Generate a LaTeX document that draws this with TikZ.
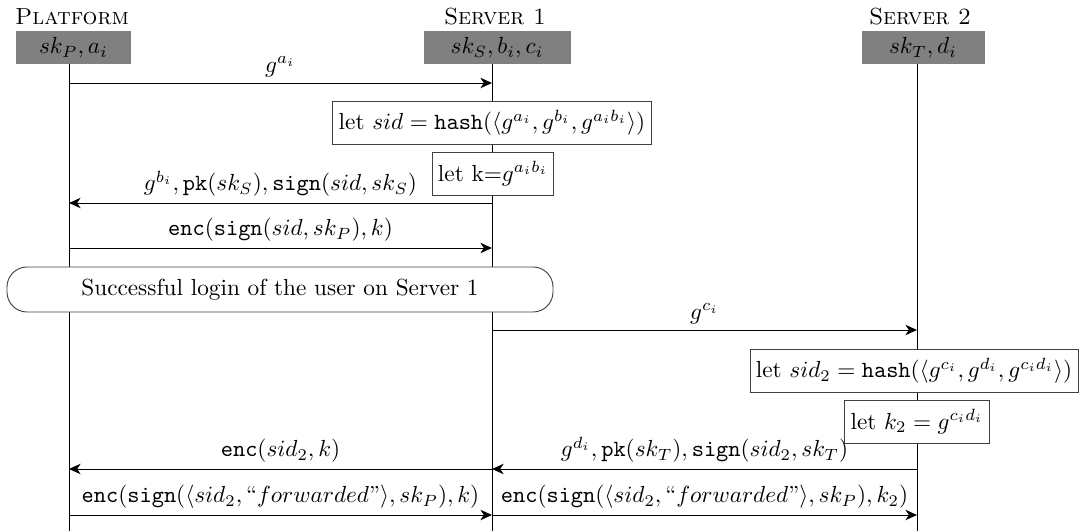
\documentclass[tikz,border=0pt]{standalone}
\usepackage{amsmath}
\usetikzlibrary{arrows.meta}
\newcommand\pxu{0.43pt}
\begin{document}
\begin{tikzpicture}[x=0.43pt,y=-0.43pt,
  title/.style={font=\scshape, inner sep=0pt},
  inst/.style={fill=black!50, minimum height=33*\pxu, inner sep=0pt},
  life/.style={line width=0.4pt},
  msg/.style={-{Stealth[length=5pt,width=4.5pt,inset=1.5pt]}, line width=0.4pt},
  lbl/.style={above, inner sep=2.5pt},
  act/.style={draw=black!75, fill=white, inner xsep=2.5pt, minimum height=43*\pxu},
  note/.style={draw=black!75, fill=white, rounded corners=20*\pxu, minimum width=546*\pxu, minimum height=45*\pxu}]
\useasboundingbox (0,0) rectangle (1083,531);
% titles
\node[title] (tP) at (72,17) {Platform};
\node[title] (tS) at (495,17) {Server 1};
\node[title] (tT) at (920,17) {Server 2};
% instance boxes
\node[inst, minimum width=115*\pxu] (P) at (73.5,48) {$sk_P, a_i$};
\node[inst, minimum width=147*\pxu] (S) at (497,48) {$sk_S, b_i, c_i$};
\node[inst, minimum width=123*\pxu] (T) at (923,48) {$sk_T, d_i$};
% lifelines
\coordinate (Ps) at (69,64);
\coordinate (Ss) at (492,64);
\coordinate (Ts) at (917,64);
\coordinate (Pe) at (69,531);
\coordinate (Se) at (492,531);
\coordinate (Te) at (917,531);
\draw[life] (Ps) -- (Pe);
\draw[life] (Ss) -- (Se);
\draw[life] (Ts) -- (Te);
% message points
\foreach \n/\y in {1/83,2/203,3/248,4/330,5/469,6/515}{
  \coordinate (p\n) at (69,\y);
  \coordinate (s\n) at (492,\y);
  \coordinate (t\n) at (917,\y);
}
\draw[msg] (p1) -- node[lbl] {$g^{a_i}$} (s1);
\node[act] (sid) at (492,122.5) {let $sid = \mathtt{hash}(\langle g^{a_i}, g^{b_i}, g^{a_ib_i}\rangle)$};
\node[act] (k) at (493,173.5) {let k=$g^{a_ib_i}$};
\draw[msg] (s2) -- node[lbl] {$g^{b_i}, \mathtt{pk}(sk_S), \mathtt{sign}(sid, sk_S)$} (p2);
\draw[msg] (p3) -- node[lbl] {$\mathtt{enc}(\mathtt{sign}(sid, sk_P), k)$} (s3);
\node[note] (login) at (280,289.5) {Successful login of the user on Server 1};
\draw[msg] (s4) -- node[lbl] {$g^{c_i}$} (t4);
\node[act] (sid2) at (914,371) {let $sid_2 = \mathtt{hash}(\langle g^{c_i}, g^{d_i}, g^{c_id_i}\rangle)$};
\node[act] (k2) at (917,421.5) {let $k_2 = g^{c_id_i}$};
\draw[msg] (s5) -- node[lbl] {$\mathtt{enc}(sid_2, k)$} (p5);
\draw[msg] (t5) -- node[lbl] {$g^{d_i}, \mathtt{pk}(sk_T), \mathtt{sign}(sid_2, sk_T)$} (s5);
\draw[msg] (p6) -- node[lbl] {$\mathtt{enc}(\mathtt{sign}(\langle sid_2, \text{``$forwarded$''}\rangle, sk_P), k)$} (s6);
\draw[msg] (s6) -- node[lbl] {$\mathtt{enc}(\mathtt{sign}(\langle sid_2, \text{``$forwarded$''}\rangle, sk_P), k_2)$} (t6);
\end{tikzpicture}
\end{document}
